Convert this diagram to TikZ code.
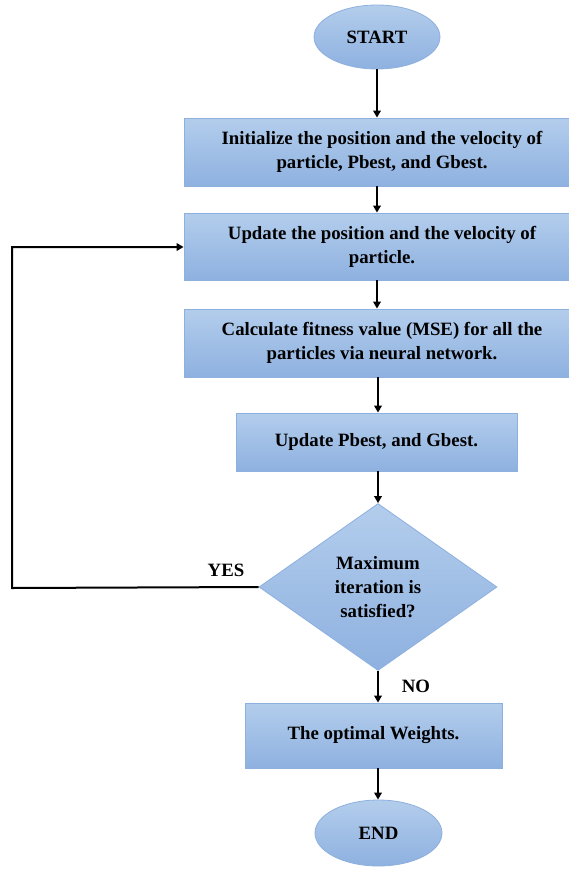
\documentclass[tikz,border=0pt]{standalone}
\usepackage{fontspec}
\setmainfont{Liberation Serif}
\usetikzlibrary{shapes.geometric,arrows.meta}
\definecolor{boxtop}{HTML}{B3CDEC}
\definecolor{boxbot}{HTML}{8EB1E0}
\definecolor{boxline}{HTML}{8DB0DE}
\tikzset{
  box/.style={draw=boxline, line width=0.8pt, top color=boxtop, bottom color=boxbot, font=\bfseries\fontsize{18.8}{24}\selectfont, align=center, inner sep=0pt},
  oval/.style={ellipse, box},
  decision/.style={diamond, box},
  conn/.style={line width=2pt, -{Triangle[length=7pt,width=7.5pt]}},
  lbl/.style={font=\bfseries\fontsize{18.8}{22}\selectfont}
}
\begin{document}
\begin{tikzpicture}[x=1pt,y=-1pt]
\useasboundingbox (0,0) rectangle (569,873);
\clip (0,0) rectangle (569,873);
\node[oval, minimum width=126pt, minimum height=64pt] (start) at (377,37) {START};
\node[box, minimum width=396pt, minimum height=68pt] (init) at (382,152) {Initialize the position and the velocity of\\particle, Pbest, and Gbest.};
\node[box, minimum width=396pt, minimum height=67pt] (upd) at (382,246.5) {Update the position and the velocity of\\particle.};
\node[box, minimum width=396pt, minimum height=68pt] (fit) at (382,343) {Calculate fitness value (MSE) for all the\\particles via neural network.};
\node[box, minimum width=281pt, minimum height=58pt] (best) at (376.5,442) {Update Pbest, and Gbest.};
\node[decision, minimum width=238pt, minimum height=167pt] (dec) at (378,587) {Maximum\\iteration is\\satisfied?};
\node[box, minimum width=257pt, minimum height=65pt] (opt) at (373.5,735.5) {The optimal Weights.};
\node[oval, minimum width=127pt, minimum height=66pt] (end) at (378.5,833) {END};
\coordinate (c1) at (12,588);
\coordinate (c2) at (12,247);
\draw[conn] (start) -- (start |- init.north);
\draw[conn] (init.south -| start) -- (start |- upd.north);
\draw[conn] (upd.south -| start) -- (start |- fit.north);
\draw[conn] (fit.south -| dec.north) -- (best.north -| dec.north);
\draw[conn] (best.south -| dec.north) -- (dec.north);
\draw[conn] (dec.south) -- (opt.north -| dec.south);
\draw[conn] (opt.south -| dec.south) -- (end.north -| dec.south);
\draw[conn] (dec.west) -- (c1) -- (c2) -- (c2 -| upd.west);
\node[lbl] (yes) at (226,570) {YES};
\node[lbl] (no) at (416,686) {NO};
\end{tikzpicture}
\end{document}
